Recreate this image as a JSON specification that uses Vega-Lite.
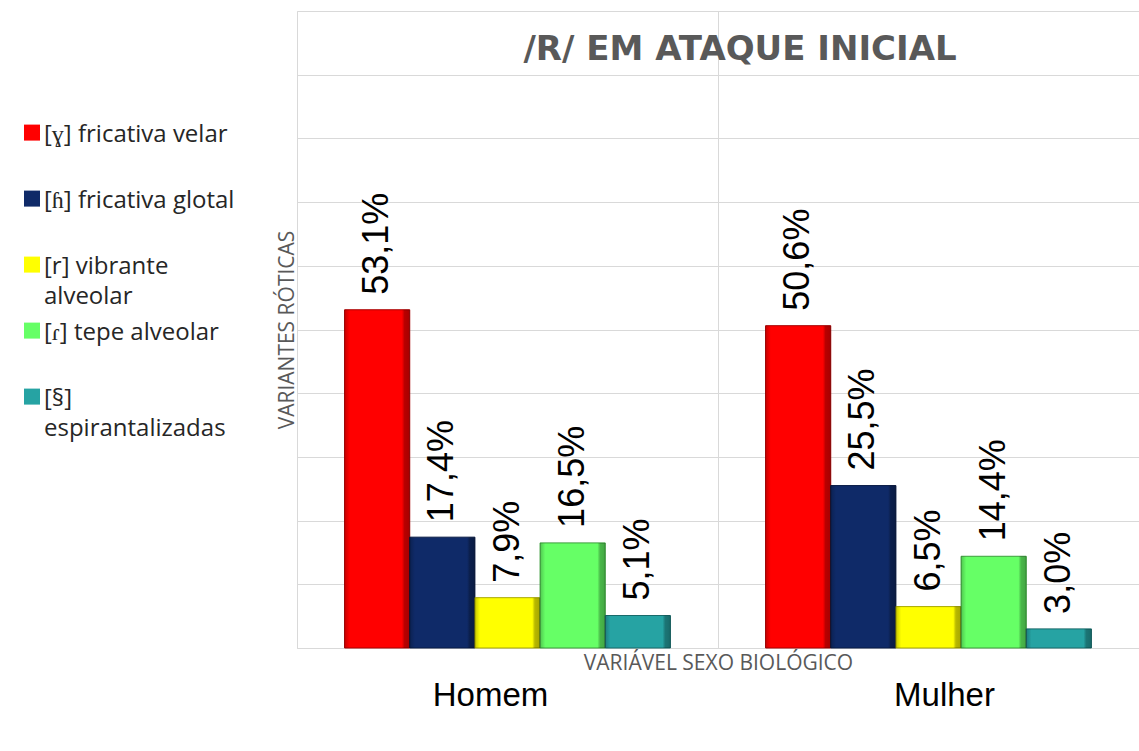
{
  "$schema": "https://vega.github.io/schema/vega-lite/v6.json",
  "width": 842,
  "height": 637,
  "autosize": {"type": "none"},
  "padding": {"left": 297, "top": 11, "right": 0, "bottom": 103},
  "background": "white",
  "config": {"view": {"stroke": "#d9d9d9", "strokeWidth": 1}},
  "title": {
    "text": "/R/ EM ATAQUE INICIAL",
    "anchor": "middle",
    "frame": "group",
    "orient": "top",
    "offset": -56,
    "baseline": "top",
    "dx": 22,
    "font": "DejaVu Sans",
    "fontSize": 34,
    "fontWeight": "bold",
    "color": "#595959"
  },
  "data": {
    "values": [
      {"sexo": "Homem", "variante": "[ɣ] fricativa velar", "valor": 53.1, "rotulo": "53,1%"},
      {"sexo": "Homem", "variante": "[ɦ] fricativa glotal", "valor": 17.4, "rotulo": "17,4%"},
      {"sexo": "Homem", "variante": "[r] vibrante alveolar", "valor": 7.9, "rotulo": "7,9%"},
      {"sexo": "Homem", "variante": "[ɾ] tepe alveolar", "valor": 16.5, "rotulo": "16,5%"},
      {"sexo": "Homem", "variante": "[§] espirantalizadas", "valor": 5.1, "rotulo": "5,1%"},
      {"sexo": "Mulher", "variante": "[ɣ] fricativa velar", "valor": 50.6, "rotulo": "50,6%"},
      {"sexo": "Mulher", "variante": "[ɦ] fricativa glotal", "valor": 25.5, "rotulo": "25,5%"},
      {"sexo": "Mulher", "variante": "[r] vibrante alveolar", "valor": 6.5, "rotulo": "6,5%"},
      {"sexo": "Mulher", "variante": "[ɾ] tepe alveolar", "valor": 14.4, "rotulo": "14,4%"},
      {"sexo": "Mulher", "variante": "[§] espirantalizadas", "valor": 3.0, "rotulo": "3,0%"}
    ]
  },
  "encoding": {
    "x": {
      "field": "sexo",
      "type": "nominal",
      "sort": null,
      "scale": {"paddingInner": 0, "paddingOuter": 0},
      "axis": {
        "title": "VARIÁVEL SEXO BIOLÓGICO",
        "titleFont": "Open Sans",
        "titleFontSize": 21,
        "titleFontWeight": "normal",
        "titleColor": "#595959",
        "titleY": 15,
        "titleBaseline": "middle",
        "bandPosition": 0,
        "grid": true,
        "gridColor": "#d9d9d9",
        "ticks": false,
        "domain": true,
        "domainColor": "#d9d9d9",
        "labelFont": "Liberation Sans",
        "labelFontSize": 33,
        "labelColor": "#000000",
        "labelAngle": 0,
        "labelPadding": 31,
        "labelOffset": {"condition": {"test": "datum.value === 'Homem'", "value": -17}, "value": 16}
      }
    },
    "y": {
      "field": "valor",
      "type": "quantitative",
      "scale": {"domain": [0, 100]},
      "axis": {
        "values": [10, 20, 30, 40, 50, 60, 70, 80, 90],
        "grid": true,
        "gridColor": "#d9d9d9",
        "labels": false,
        "ticks": false,
        "domain": false,
        "title": "VARIANTES RÓTICAS",
        "titleFont": "Open Sans",
        "titleFontSize": 21,
        "titleFontWeight": "normal",
        "titleColor": "#595959",
        "titlePadding": 0
      }
    }
  },
  "layer": [
    {
      "mark": {"type": "bar", "strokeWidth": 1},
      "encoding": {
        "xOffset": {
          "field": "variante",
          "type": "nominal",
          "sort": null,
          "scale": {"paddingInner": 0, "paddingOuter": 0.73}
        },
        "color": {
          "field": "variante",
          "type": "nominal",
          "sort": null,
          "scale": {
            "domain": ["[ɣ] fricativa velar", "[ɦ] fricativa glotal", "[r] vibrante alveolar", "[ɾ] tepe alveolar", "[§] espirantalizadas"],
            "range": ["#ff0000", "#0f2a68", "#ffff00", "#66ff66", "#26a3a3"]
          },
          "legend": {
            "title": null,
            "orient": "none",
            "legendX": -277,
            "legendY": 100,
            "direction": "vertical",
            "padding": 0,
            "symbolType": "M-1,0.2H1V2.2H-1Z",
            "symbolSize": 256,
            "symbolStrokeWidth": 0,
            "symbolOpacity": 1,
            "labelFont": "Open Sans",
            "labelFontSize": 24,
            "labelColor": "#262626",
            "labelBaseline": "top",
            "labelOffset": 0,
            "labelLimit": 400,
            "rowPadding": 0,
            "labelExpr": "datum.label === '[r] vibrante alveolar' ? ['[r] vibrante', 'alveolar'] : datum.label === '[§] espirantalizadas' ? ['[§]', 'espirantalizadas'] : [datum.label, '']",
            "encode": {"labels": {"update": {"lineHeight": {"value": 30}}}}
          }
        },
        "stroke": {
          "field": "variante",
          "type": "nominal",
          "sort": null,
          "scale": {
            "domain": ["[ɣ] fricativa velar", "[ɦ] fricativa glotal", "[r] vibrante alveolar", "[ɾ] tepe alveolar", "[§] espirantalizadas"],
            "range": ["#a80000", "#081a45", "#a8a800", "#3c9e3c", "#196b6b"]
          },
          "legend": null
        }
      }
    },
    {
      "mark": {
        "type": "bar",
        "fill": {
          "gradient": "linear",
          "x1": 0, "x2": 1, "y1": 0, "y2": 0,
          "stops": [
            {"offset": 0, "color": "rgba(0,0,0,0.22)"},
            {"offset": 0.08, "color": "rgba(0,0,0,0)"},
            {"offset": 0.88, "color": "rgba(0,0,0,0)"},
            {"offset": 0.92, "color": "rgba(0,0,0,0.28)"},
            {"offset": 1, "color": "rgba(0,0,0,0.35)"}
          ]
        }
      },
      "encoding": {
        "xOffset": {"field": "variante", "type": "nominal", "sort": null}
      }
    },
    {
      "mark": {
        "type": "text",
        "angle": 270,
        "align": "left",
        "baseline": "middle",
        "dx": 15,
        "font": "Liberation Sans",
        "fontSize": 36,
        "color": "#000000"
      },
      "encoding": {
        "xOffset": {"field": "variante", "type": "nominal", "sort": null},
        "text": {"field": "rotulo"}
      }
    }
  ]
}
